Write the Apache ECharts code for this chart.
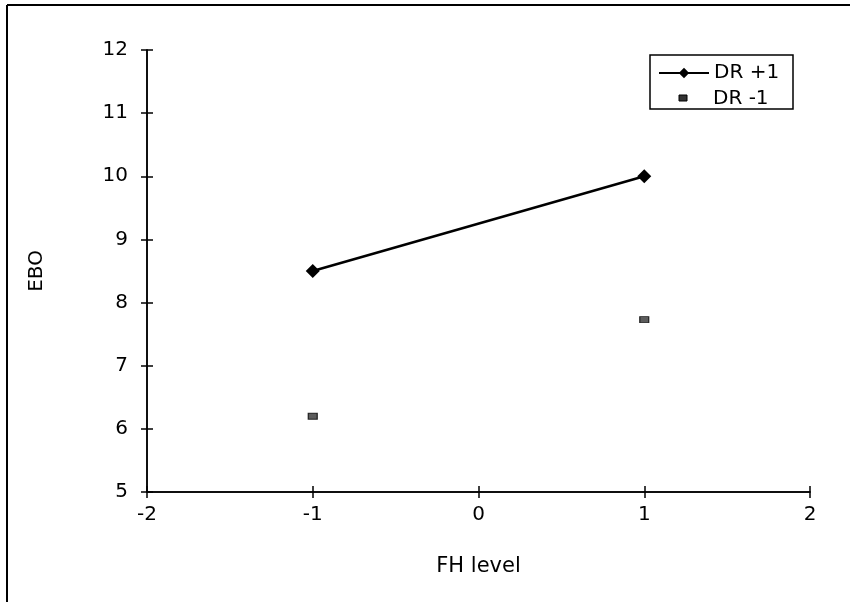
<!DOCTYPE html>
<html><head><meta charset="utf-8">
<script src="https://cdn.jsdelivr.net/npm/echarts@6/dist/echarts.min.js"></script>
<style>html,body{margin:0;padding:0;background:#fff}#c{width:850px;height:602px}</style>
</head><body><div id="c"></div>
<script>
const fhLevels = [-1, 1];
const drPlus1 = [8.5, 10.0];
const drMinus1 = [6.2, 7.73];
const xTicks = [-2, -1, 0, 1, 2];
const yTicks = [5, 6, 7, 8, 9, 10, 11, 12];

const chart = echarts.init(document.getElementById('c'));
const font = 'DejaVu Sans, Arial, sans-serif';
const tickStyle = {color: '#000', width: 1.5};
chart.setOption({
  animation: false,
  backgroundColor: '#fff',
  grid: {left: 147, right: 40, top: 50, bottom: 110, containLabel: false},
  legend: [{
    left: 653, top: 58, orient: 'vertical',
    itemWidth: 50, itemHeight: 13, itemGap: 5,
    textStyle: {fontFamily: font, fontSize: 20, color: '#000'},
    data: ['DR +1']
  }, {
    left: 653, top: 84, orient: 'vertical',
    itemWidth: 50, itemHeight: 13, itemGap: 5, icon: 'none',
    textStyle: {fontFamily: font, fontSize: 20, color: '#000'},
    data: [{name: 'DR -1', icon: 'none'}]
  }],
  xAxis: [{
    type: 'value', min: -2, max: 2, interval: 1, position: 'bottom',
    axisLine: {show: true, onZero: false, lineStyle: {color: '#000', width: 1.5}},
    splitLine: {show: false},
    axisTick: {show: true, inside: true, length: 6, lineStyle: tickStyle},
    axisLabel: {fontFamily: font, fontSize: 20, color: '#000', margin: 13,
      formatter: v => xTicks.includes(v) ? String(v) : ''},
    name: 'FH level', nameLocation: 'middle', nameGap: 64,
    nameTextStyle: {fontFamily: font, fontSize: 21, color: '#000'}
  }, {
    type: 'value', min: -2, max: 2, interval: 1, position: 'bottom',
    axisLine: {show: true, onZero: false, lineStyle: {color: '#000', width: 1.5}},
    splitLine: {show: false},
    axisTick: {show: true, inside: false, length: 6, lineStyle: tickStyle},
    axisLabel: {show: false}
  }],
  yAxis: [{
    type: 'value', min: 5, max: 12, interval: 1, position: 'left',
    axisLine: {show: true, onZero: false, lineStyle: {color: '#000', width: 1.5}},
    splitLine: {show: false},
    axisTick: {show: true, inside: true, length: 6, lineStyle: tickStyle},
    axisLabel: {fontFamily: font, fontSize: 20, color: '#000', margin: 19,
      formatter: v => yTicks.includes(v) ? String(v) : ''},
    name: 'EBO', nameLocation: 'middle', nameGap: 100, nameRotate: 90,
    nameTextStyle: {fontFamily: font, fontSize: 20, color: '#000'}
  }, {
    type: 'value', min: 5, max: 12, interval: 1, position: 'left',
    axisLine: {show: true, onZero: false, lineStyle: {color: '#000', width: 1.5}},
    splitLine: {show: false},
    axisTick: {show: true, inside: false, length: 6, lineStyle: tickStyle},
    axisLabel: {show: false}
  }],
  graphic: [
    {type: 'line', shape: {x1: 7, y1: 5, x2: 850, y2: 5}, style: {stroke: '#000', lineWidth: 2}},
    {type: 'line', shape: {x1: 7, y1: 5, x2: 7, y2: 602}, style: {stroke: '#000', lineWidth: 2}},
    {type: 'rect', shape: {x: 650, y: 55, width: 143, height: 54}, style: {fill: 'none', stroke: '#000', lineWidth: 1.5}},
    {type: 'rect', shape: {x: 679, y: 95, width: 8, height: 6}, style: {fill: '#333', stroke: '#000', lineWidth: 1}}
  ],
  series: [{
    name: 'DR +1', type: 'line', xAxisIndex: 0, yAxisIndex: 0,
    data: fhLevels.map((x, i) => [x, drPlus1[i]]),
    symbol: 'diamond', symbolSize: 14,
    lineStyle: {color: '#000', width: 2.5},
    itemStyle: {color: '#000'}
  }, {
    name: 'DR -1', type: 'scatter', xAxisIndex: 1, yAxisIndex: 1,
    data: fhLevels.map((x, i) => [x, drMinus1[i]]),
    symbol: 'rect', symbolSize: [9, 6],
    itemStyle: {color: '#333', borderColor: '#000', borderWidth: 1}
  }]
});
</script></body></html>
